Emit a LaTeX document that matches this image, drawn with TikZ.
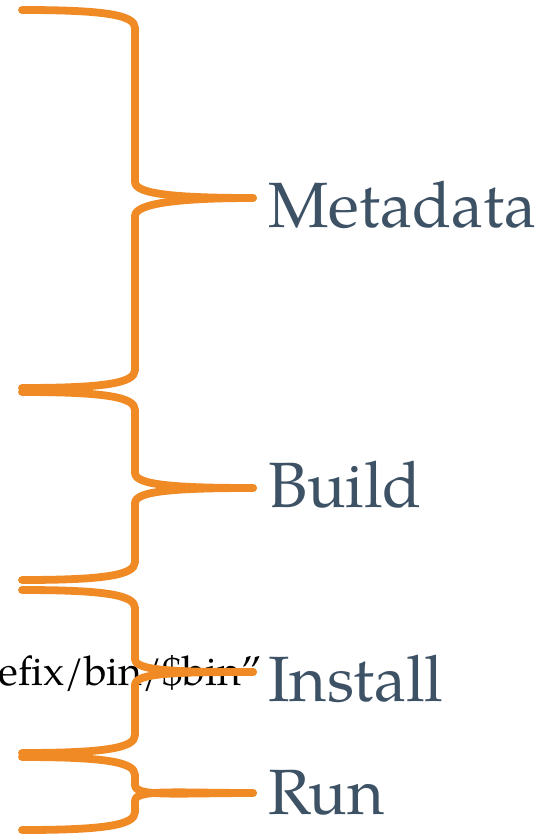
\documentclass[tikz,border=0pt]{standalone}
\usepackage{fontspec}
\setmainfont{TeX Gyre Pagella}
\definecolor{braceorange}{HTML}{F08A24}
\definecolor{labelslate}{HTML}{3E5266}
\tikzset{
  bracestroke/.style={draw=braceorange, line width=7.8pt, line cap=round, line join=round},
  stagelabel/.style={anchor=base west, inner sep=0pt, text=labelslate, font=\fontsize{64}{64}\selectfont},
  codetext/.style={anchor=base west, inner sep=0pt, text=black, font=\fontsize{41}{41}\selectfont}
}
% #1 top end, #2 upper bend end, #3 tip, #4 lower bend start, #5 bottom end
\newcommand\drawstagebrace[5]{%
  \draw[bracestroke] (22,#1) .. controls (105,#1) and (135,#1+5) .. (135,#1+18)
    -- (135,#2) .. controls (135,#2+12) and (175,#3) .. (253,#3);
  \draw[bracestroke] (253,#3) .. controls (175,#3) and (135,#4-12) .. (135,#4)
    -- (135,#5-18) .. controls (135,#5-5) and (105,#5) .. (22,#5);
}
\begin{document}
\begin{tikzpicture}[x=1pt,y=-1pt]
  \useasboundingbox[fill=white] (0,0) rectangle (553,837);
  % shell line partly shown at the left edge
  \node[codetext] (code) at (-1.5,685) {efix/bin/\$bin”};
  % the four stage braces
  \drawstagebrace{10}{182}{198}{216}{388}
  \drawstagebrace{392}{473}{488}{503}{580}
  \drawstagebrace{590}{659}{672}{685}{753}
  \drawstagebrace{757}{785}{793}{801}{830}
  % stage names
  \node[stagelabel] (meta) at (268,227) {Metadata};
  \node[stagelabel] (build) at (268,507) {Build};
  \node[stagelabel] (install) at (268,701) {Install};
  \node[stagelabel] (run) at (268,814) {Run};
\end{tikzpicture}
\end{document}
